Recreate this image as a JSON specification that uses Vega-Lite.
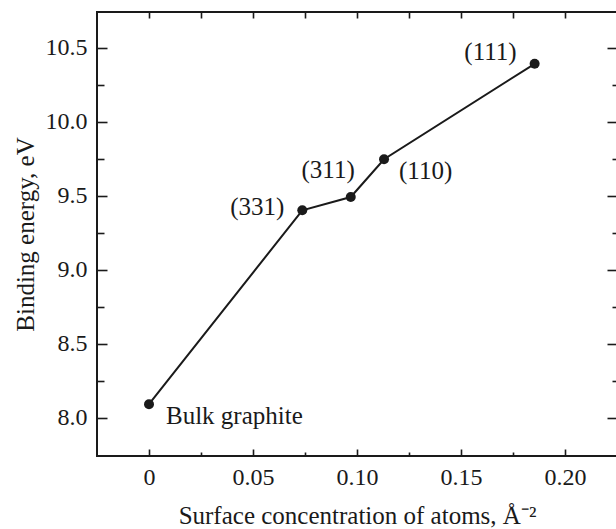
{
  "$schema": "https://vega.github.io/schema/vega-lite/v6.json",
  "autosize": {"type": "none"},
  "padding": {"left": 97, "top": 12, "right": 0, "bottom": 73},
  "width": 520,
  "height": 444,
  "background": "white",
  "config": {
    "view": {"stroke": "#1a1a1a", "strokeWidth": 2},
    "font": "Liberation Serif",
    "axis": {
      "domain": false,
      "grid": false,
      "tickColor": "#1a1a1a",
      "tickWidth": 1.6,
      "labelFont": "Liberation Serif",
      "labelFontSize": 24,
      "labelColor": "#1a1a1a",
      "titleFont": "Liberation Serif",
      "titleFontSize": 25,
      "titleFontWeight": "normal",
      "titleColor": "#1a1a1a"
    },
    "text": {"font": "Liberation Serif", "fontSize": 25, "color": "#1a1a1a"}
  },
  "data": {
    "values": [
      {"conc": 0.0, "energy": 8.09, "label": "Bulk graphite"},
      {"conc": 0.0737, "energy": 9.40, "label": "(331)"},
      {"conc": 0.097, "energy": 9.49, "label": "(311)"},
      {"conc": 0.113, "energy": 9.745, "label": "(110)"},
      {"conc": 0.1854, "energy": 10.39, "label": "(111)"}
    ]
  },
  "resolve": {"axis": {"x": "independent", "y": "independent"}},
  "layer": [
    {
      "mark": {"type": "line", "color": "#1a1a1a", "strokeWidth": 2},
      "encoding": {
        "x": {
          "field": "conc", "type": "quantitative",
          "scale": {"domain": [-0.025, 0.225], "nice": false, "zero": false},
          "axis": {
            "orient": "bottom",
            "values": [0, 0.05, 0.1, 0.15, 0.2],
            "labelExpr": "datum.value == 0 ? '0' : format(datum.value, '.2f')",
            "labelFont": "Liberation Serif",
            "labelFontSize": 24,
            "labelColor": "#1a1a1a",
            "tickSize": -7,
            "labelPadding": 16,
            "title": "Surface concentration of atoms, Å⁻²",
            "titleFont": "Liberation Serif",
            "titleFontSize": 25,
            "titleFontWeight": "normal",
            "titlePadding": 14
          }
        },
        "y": {
          "field": "energy", "type": "quantitative",
          "scale": {"domain": [7.74, 10.74], "nice": false, "zero": false},
          "axis": {
            "orient": "left",
            "values": [8, 8.5, 9, 9.5, 10, 10.5],
            "format": ".1f",
            "labelFont": "Liberation Serif",
            "labelFontSize": 24,
            "labelColor": "#1a1a1a",
            "tickSize": -10,
            "labelPadding": 20,
            "title": "Binding energy, eV",
            "titleFont": "Liberation Serif",
            "titleFontSize": 25,
            "titleFontWeight": "normal",
            "titlePadding": 7
          }
        }
      }
    },
    {
      "mark": {"type": "point", "filled": true, "color": "#1a1a1a", "size": 100, "opacity": 1},
      "encoding": {
        "x": {
          "field": "conc", "type": "quantitative",
          "scale": {"domain": [-0.025, 0.225], "nice": false, "zero": false},
          "axis": {
            "orient": "top",
            "values": [0, 0.025, 0.05, 0.075, 0.1, 0.125, 0.15, 0.175, 0.2],
            "labels": false, "tickSize": -6, "title": null
          }
        },
        "y": {
          "field": "energy", "type": "quantitative",
          "scale": {"domain": [7.74, 10.74], "nice": false, "zero": false},
          "axis": {
            "orient": "right",
            "values": [8, 8.5, 9, 9.5, 10, 10.5],
            "labels": false, "tickSize": -10, "title": null
          }
        }
      }
    },
    {
      "transform": [{"filter": "datum.label == '(111)'"}],
      "mark": {"type": "text", "align": "right", "baseline": "middle", "dx": -18, "dy": -12},
      "encoding": {
        "x": {
          "field": "conc", "type": "quantitative",
          "scale": {"domain": [-0.025, 0.225], "nice": false, "zero": false},
          "axis": {
            "orient": "bottom",
            "values": [0.025, 0.075, 0.125, 0.175],
            "labels": false, "tickSize": -4, "title": null
          }
        },
        "y": {
          "field": "energy", "type": "quantitative",
          "scale": {"domain": [7.74, 10.74], "nice": false, "zero": false},
          "axis": {
            "orient": "left",
            "values": [8.25, 8.75, 9.25, 9.75, 10.25],
            "labels": false, "tickSize": -7, "title": null
          }
        },
        "text": {"field": "label"}
      }
    },
    {
      "transform": [{"filter": "datum.label == '(110)'"}],
      "mark": {"type": "text", "align": "left", "baseline": "middle", "dx": 15, "dy": 12},
      "encoding": {
        "x": {
          "field": "conc", "type": "quantitative",
          "scale": {"domain": [-0.025, 0.225], "nice": false, "zero": false},
          "axis": null
        },
        "y": {
          "field": "energy", "type": "quantitative",
          "scale": {"domain": [7.74, 10.74], "nice": false, "zero": false},
          "axis": {
            "orient": "right",
            "values": [8.25, 8.75, 9.25, 9.75, 10.25],
            "labels": false, "tickSize": -5, "title": null
          }
        },
        "text": {"field": "label"}
      }
    },
    {
      "transform": [{"filter": "datum.label == '(311)'"}],
      "mark": {"type": "text", "align": "right", "baseline": "middle", "dx": 4, "dy": -27},
      "encoding": {
        "x": {"field": "conc", "type": "quantitative", "scale": {"domain": [-0.025, 0.225], "nice": false, "zero": false}, "axis": null},
        "y": {"field": "energy", "type": "quantitative", "scale": {"domain": [7.74, 10.74], "nice": false, "zero": false}, "axis": null},
        "text": {"field": "label"}
      }
    },
    {
      "transform": [{"filter": "datum.label == '(331)'"}],
      "mark": {"type": "text", "align": "right", "baseline": "middle", "dx": -18, "dy": -3},
      "encoding": {
        "x": {"field": "conc", "type": "quantitative", "scale": {"domain": [-0.025, 0.225], "nice": false, "zero": false}, "axis": null},
        "y": {"field": "energy", "type": "quantitative", "scale": {"domain": [7.74, 10.74], "nice": false, "zero": false}, "axis": null},
        "text": {"field": "label"}
      }
    },
    {
      "transform": [{"filter": "datum.label == 'Bulk graphite'"}],
      "mark": {"type": "text", "align": "left", "baseline": "middle", "dx": 17, "dy": 12},
      "encoding": {
        "x": {"field": "conc", "type": "quantitative", "scale": {"domain": [-0.025, 0.225], "nice": false, "zero": false}, "axis": null},
        "y": {"field": "energy", "type": "quantitative", "scale": {"domain": [7.74, 10.74], "nice": false, "zero": false}, "axis": null},
        "text": {"field": "label"}
      }
    }
  ]
}
